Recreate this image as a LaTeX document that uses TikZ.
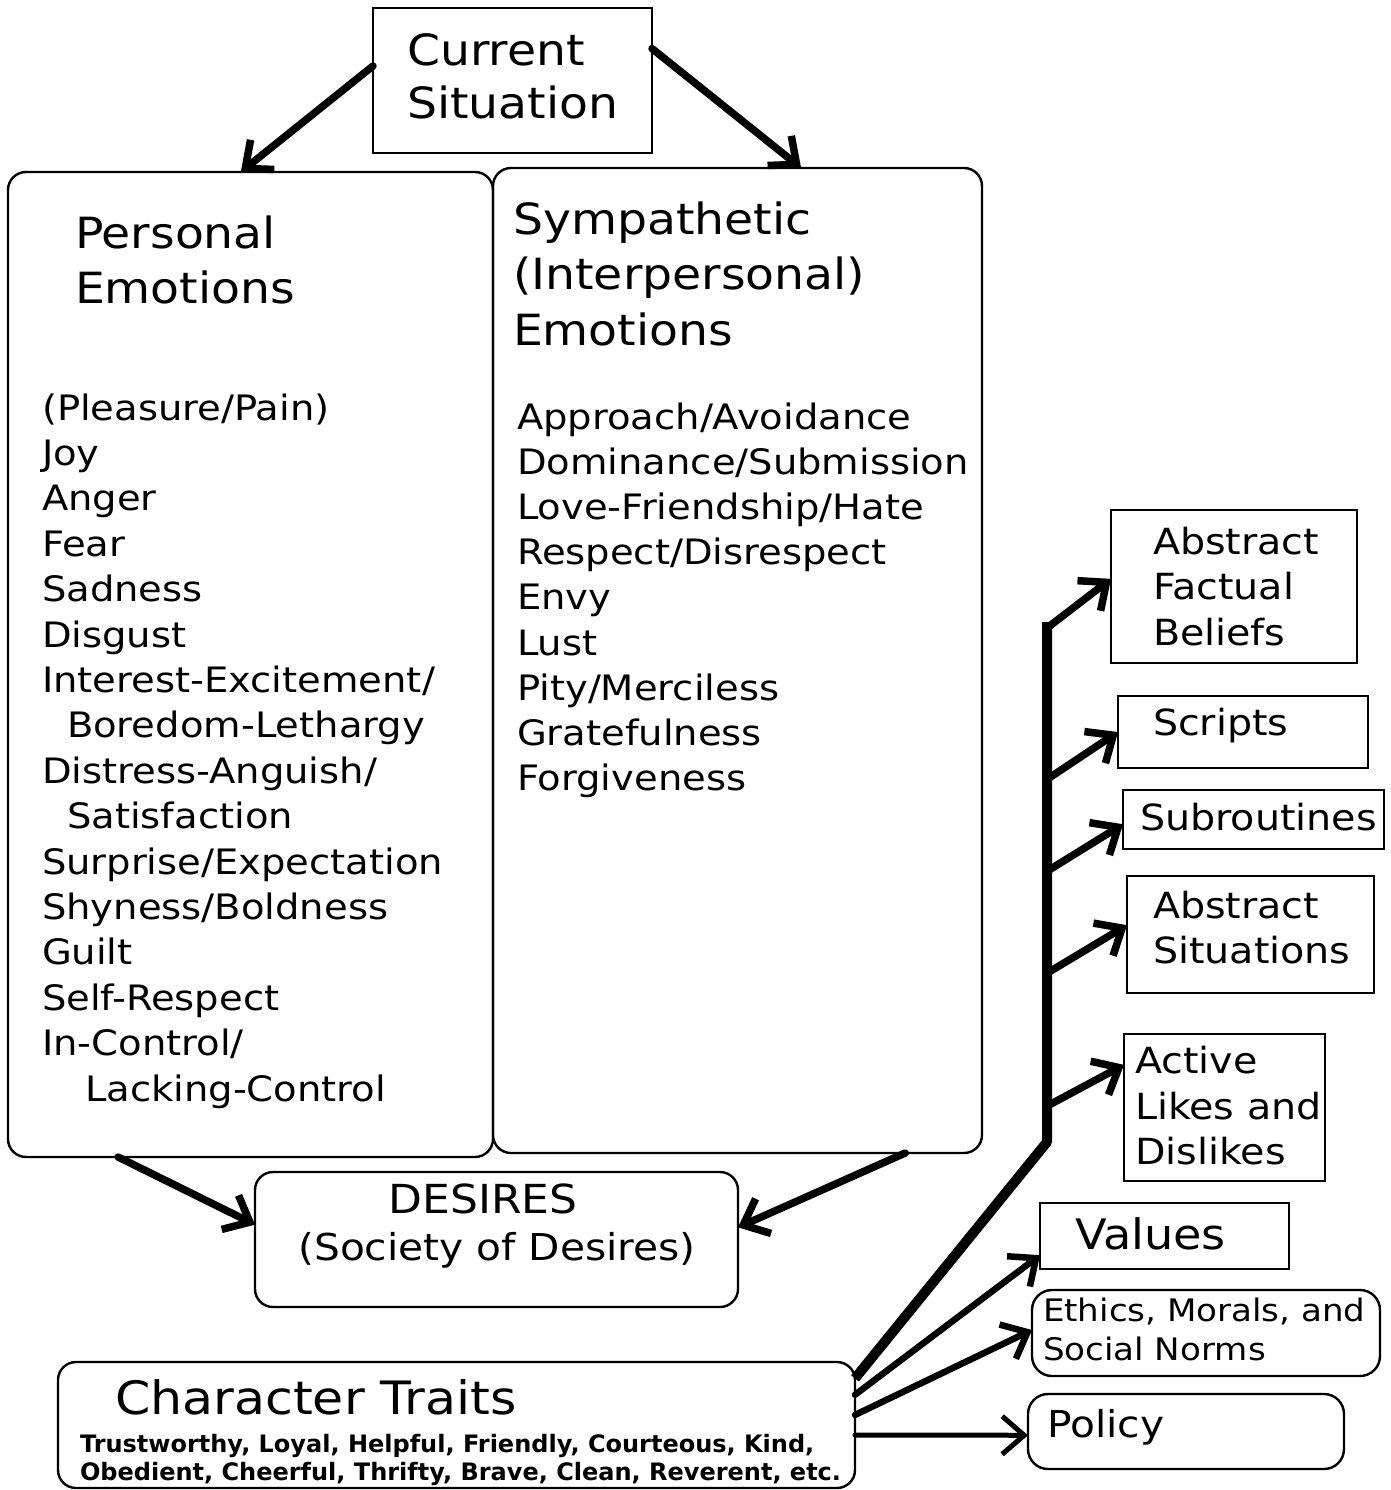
\documentclass[tikz,border=0pt]{standalone}
\usepackage{fontspec}
\setmainfont[FakeStretch=1.1]{DejaVu Sans}
\newfontfamily\traitfont{DejaVu Sans}
\usetikzlibrary{arrows.meta,calc}
\begin{document}
\begin{tikzpicture}[x=1pt,y=-1pt,
  box/.style={draw, line width=2.4pt, inner sep=0pt, outer sep=0pt},
  rbox/.style={box, rounded corners=18pt},
  txt/.style={anchor=base west, inner sep=0pt, outer sep=0pt},
  head/.style={txt, font=\fontsize{43}{50}\selectfont},
  item/.style={txt, font=\fontsize{35}{42}\selectfont},
  rtxt/.style={txt, font=\fontsize{36}{42}\selectfont},
  arw/.style={line width=7.5pt, line cap=round, -{Straight Barb[length=22pt,width=38pt]}},
  trunk/.style={line width=10pt, line join=round},
]
\useasboundingbox (0,0) rectangle (1390,1490);

% boxes
\node[box, minimum width=279pt, minimum height=145pt] (cs) at (512.5,80.5) {};
\node[rbox, minimum width=485pt, minimum height=985pt] (pe) at (250.5,664.5) {};
\node[rbox, minimum width=489pt, minimum height=985pt] (se) at (737.5,660.5) {};
\node[rbox, minimum width=483pt, minimum height=135pt] (de) at (496.5,1239.5) {};
\node[rbox, minimum width=797pt, minimum height=126pt] (ct) at (456.5,1425) {};
\node[box, minimum width=246pt, minimum height=153pt] (afb) at (1234,586.5) {};
\node[box, minimum width=250pt, minimum height=72pt] (scr) at (1243,732) {};
\node[box, minimum width=261pt, minimum height=59pt] (sub) at (1253.5,819.5) {};
\node[box, minimum width=247pt, minimum height=117pt] (asit) at (1250.5,934.5) {};
\node[box, minimum width=201pt, minimum height=147pt] (ald) at (1224.5,1107.5) {};
\node[box, minimum width=249pt, minimum height=66pt] (val) at (1164.5,1236) {};
\node[rbox, rounded corners=20pt, minimum width=348pt, minimum height=86pt] (eth) at (1206,1333) {};
\node[rbox, rounded corners=20pt, minimum width=316pt, minimum height=75pt] (pol) at (1186,1431.5) {};

% texts
\node[head] (cs1) at (407,66) {Current};
\node[head] (cs2) at (407,119) {Situation};
\node[head] (pe1) at (75,248) {Personal};
\node[head] (pe2) at (75,303) {Emotions};
\node[head] (se1) at (513,234) {Sympathetic};
\node[head] (se2) at (513,289) {(Interpersonal)};
\node[head] (se3) at (513,345) {Emotions};

\node[item] (p1) at (42,420) {(Pleasure/Pain)};
\node[item] (p2) at (42,465.4) {Joy};
\node[item] (p3) at (42,510.8) {Anger};
\node[item] (p4) at (42,556.2) {Fear};
\node[item] (p5) at (42,601.6) {Sadness};
\node[item] (p6) at (42,647) {Disgust};
\node[item] (p7) at (42,692.4) {Interest-Excitement/};
\node[item] (p8) at (67,737.8) {Boredom-Lethargy};
\node[item] (p9) at (42,783.2) {Distress-Anguish/};
\node[item] (p10) at (67,828.6) {Satisfaction};
\node[item] (p11) at (42,874) {Surprise/Expectation};
\node[item] (p12) at (42,919.4) {Shyness/Boldness};
\node[item] (p13) at (42,964.8) {Guilt};
\node[item] (p14) at (42,1010.2) {Self-Respect};
\node[item] (p15) at (42,1055.6) {In-Control/};
\node[item] (p16) at (85,1101) {Lacking-Control};

\node[item] (s1) at (517,429) {Approach/Avoidance};
\node[item] (s2) at (517,474.2) {Dominance/Submission};
\node[item] (s3) at (517,519.4) {Love-Friendship/Hate};
\node[item] (s4) at (517,564.6) {Respect/Disrespect};
\node[item] (s5) at (517,609.8) {Envy};
\node[item] (s6) at (517,655) {Lust};
\node[item] (s7) at (517,700.2) {Pity/Merciless};
\node[item] (s8) at (517,745.4) {Gratefulness};
\node[item] (s9) at (517,790.6) {Forgiveness};

\node[anchor=base, inner sep=0pt, font=\fontsize{40}{48}\selectfont] (d1) at (483,1213) {DESIRES};
\node[anchor=base, inner sep=0pt, font=\fontsize{37}{44}\selectfont] (d2) at (497,1260) {(Society of Desires)};

\node[txt, font=\fontsize{46}{52}\selectfont] (c1) at (115,1414) {Character Traits};
\node[txt, font=\traitfont\bfseries\fontsize{24}{28}\selectfont] (c2) at (80,1452) {Trustworthy, Loyal, Helpful, Friendly, Courteous, Kind,};
\node[txt, font=\traitfont\bfseries\fontsize{24}{28}\selectfont] (c3) at (80,1480) {Obedient, Cheerful, Thrifty, Brave, Clean, Reverent, etc.};

\node[rtxt] (a1) at (1153,554) {Abstract};
\node[rtxt] (a2) at (1153,599) {Factual};
\node[rtxt] (a3) at (1153,645) {Beliefs};
\node[rtxt] (sc1) at (1153,735) {Scripts};
\node[rtxt] (su1) at (1140,830) {Subroutines};
\node[rtxt] (as1) at (1153,918) {Abstract};
\node[rtxt] (as2) at (1153,963) {Situations};
\node[rtxt] (al1) at (1135,1073) {Active};
\node[rtxt] (al2) at (1135,1119) {Likes and};
\node[rtxt] (al3) at (1135,1164) {Dislikes};
\node[txt, font=\fontsize{42}{48}\selectfont] (v1) at (1075,1249) {Values};
\node[txt, font=\fontsize{31}{36}\selectfont] (e1) at (1043,1321) {Ethics, Morals, and};
\node[txt, font=\fontsize{31}{36}\selectfont] (e2) at (1043,1360) {Social Norms};
\node[txt, font=\fontsize{37}{42}\selectfont] (po1) at (1047,1437) {Policy};

% arrows
\draw[arw] ($(cs.north west)!0.4!(cs.south west)$) -- ($(pe.north west)!0.48!(pe.north east)$);
\draw[arw] ($(cs.north east)!0.28!(cs.south east)$) -- ($(se.north west)!0.63!(se.north east)$);
\draw[arw] ($(pe.south west)!0.227!(pe.south east)$) -- ($(de.north west)!0.39!(de.south west)$);
\draw[arw] ($(se.south west)!0.843!(se.south east)$) -- ($(de.north east)!0.41!(de.south east)$);

\coordinate (t1) at (1047,622);
\coordinate (t2) at (1047,1142);
\coordinate (t3) at ($(ct.north east)!0.13!(ct.south east)$);
\draw[trunk] (t1) -- (t2) -- (t3);

\coordinate (b1) at (1047,628);
\coordinate (b2) at (1049,778);
\coordinate (b3) at (1049,870);
\coordinate (b4) at (1049,972);
\coordinate (b5) at (1049,1105);
\draw[arw] (b1) -- ($(afb.north west)!0.45!(afb.south west)$);
\draw[arw] (b2) -- (scr.west);
\draw[arw] (b3) -- ($(sub.north west)!0.58!(sub.south west)$);
\draw[arw] (b4) -- ($(asit.north west)!0.42!(asit.south west)$);
\draw[arw] (b5) -- ($(ald.north west)!0.21!(ald.south west)$);

\draw[arw, line width=6.5pt] ($(ct.north east)!0.26!(ct.south east)$) -- ($(val.north west)!0.79!(val.south west)$);
\draw[arw, line width=6.5pt] ($(ct.north east)!0.42!(ct.south east)$) -- ($(eth.north west)!0.465!(eth.south west)$);
\draw[arw, line width=5pt] ($(ct.north east)!0.58!(ct.south east)$) -- ($(pol.north west)!0.55!(pol.south west)$);
\end{tikzpicture}
\end{document}
